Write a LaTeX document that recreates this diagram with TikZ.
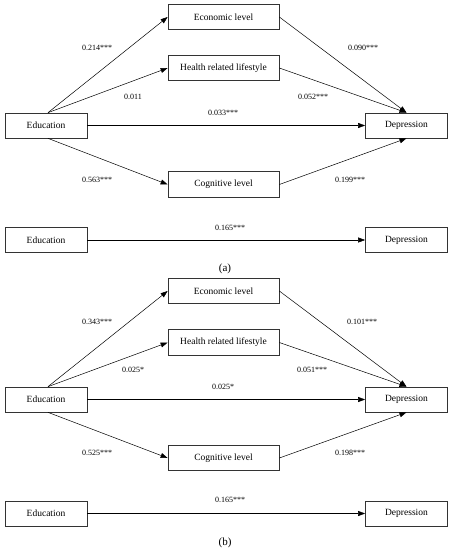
\documentclass[tikz,border=0pt]{standalone}
\usepackage{fontspec}
\setmainfont{Liberation Serif}
\usetikzlibrary{arrows.meta}
\begin{document}
\begin{tikzpicture}[x=1pt,y=-1pt,
  box/.style={draw=black!80,line width=0.7pt,inner sep=0pt,font=\fontsize{9.5}{11}\selectfont},
  mid/.style={box,minimum width=111pt,minimum height=25.5pt},
  side/.style={box,minimum width=82pt,minimum height=25pt},
  arr/.style={-{Triangle[length=7pt,width=5pt]},line width=0.5pt},
  lab/.style={font=\fontsize{8}{9}\selectfont,inner sep=1pt},
  panelcap/.style={font=\fontsize{11}{13}\selectfont,inner sep=0pt}]
\useasboundingbox (0,0) rectangle (451,550);
% ---------- panel (a) ----------
\node[mid] (ea) at (223.5,17) {Economic level};
\node[mid] (ha) at (223.5,68) {Health related lifestyle};
\node[side] (eda) at (46,125.5) {Education};
\node[side] (da) at (406.5,125.5) {Depression};
\node[mid] (ca) at (223.5,184.5) {Cognitive level};
\node[side] (eda2) at (46,240) {Education};
\node[side] (da2) at (406.5,240) {Depression};
\draw[arr] ([xshift=2pt]eda.north) -- (ea.west);
\draw[arr] ([xshift=2pt]eda.north) -- (ha.west);
\draw[arr] ([xshift=2pt]eda.south) -- (ca.west);
\draw[arr] (eda.east) -- (da.west);
\draw[arr] (ea.east) -- (da.north);
\draw[arr] (ha.east) -- (da.north);
\draw[arr] (ca.east) -- (da.south);
\draw[arr] (eda2.east) -- (da2.west);
\node[lab] at (97,48) {0.214***};
\node[lab] at (133,97) {0.011};
\node[lab] at (363,48) {0.090***};
\node[lab] at (313,97) {0.052***};
\node[lab] at (223,113) {0.033***};
\node[lab] at (97,180) {0.563***};
\node[lab] at (350,180) {0.199***};
\node[lab] at (230,228) {0.165***};
\node[panelcap] at (225,269) {(a)};
% ---------- panel (b) ----------
\node[mid] (eb) at (223.5,291) {Economic level};
\node[mid] (hb) at (223.5,342.5) {Health related lifestyle};
\node[side] (edb) at (46,399.5) {Education};
\node[side] (db) at (406.5,399.5) {Depression};
\node[mid] (cb) at (223.5,458) {Cognitive level};
\node[side] (edb2) at (46,513.5) {Education};
\node[side] (db2) at (406.5,513.5) {Depression};
\draw[arr] ([xshift=2pt]edb.north) -- (eb.west);
\draw[arr] ([xshift=2pt]edb.north) -- (hb.west);
\draw[arr] ([xshift=2pt]edb.south) -- (cb.west);
\draw[arr] (edb.east) -- (db.west);
\draw[arr] (eb.east) -- (db.north);
\draw[arr] (hb.east) -- (db.north);
\draw[arr] (cb.east) -- (db.south);
\draw[arr] (edb2.east) -- (db2.west);
\node[lab] at (97,322) {0.343***};
\node[lab] at (133,370) {0.025*};
\node[lab] at (362,322) {0.101***};
\node[lab] at (312,370) {0.051***};
\node[lab] at (223,387) {0.025*};
\node[lab] at (97,453) {0.525***};
\node[lab] at (350,453) {0.198***};
\node[lab] at (230,500) {0.165***};
\node[panelcap] at (225,543) {(b)};
\end{tikzpicture}
\end{document}
